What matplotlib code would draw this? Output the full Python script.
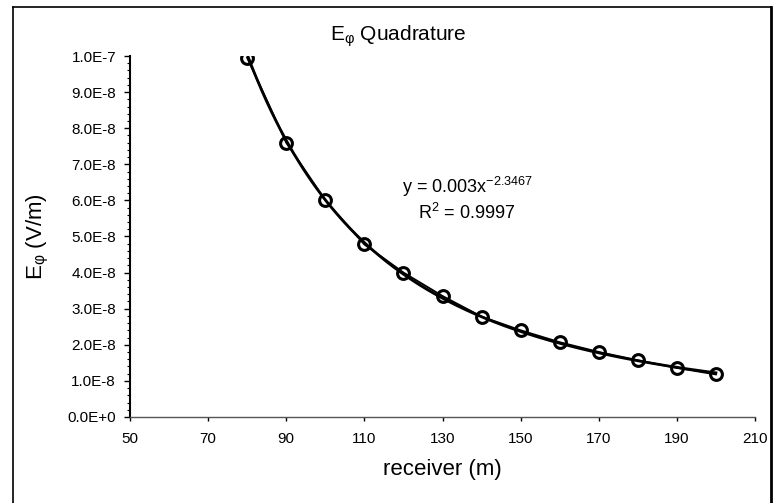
import matplotlib.pyplot as plt
import numpy as np
from matplotlib.ticker import MultipleLocator, FuncFormatter
from matplotlib.lines import Line2D

plt.rcParams['font.family'] = ['Liberation Sans', 'DejaVu Sans']
plt.rcParams['mathtext.fontset'] = 'custom'
plt.rcParams['mathtext.rm'] = 'Liberation Sans'
plt.rcParams['mathtext.it'] = 'Liberation Sans:italic'

# data
receiver = [80, 90, 100, 110, 120, 130, 140, 150, 160, 170, 180, 190, 200]
e_phi = [9.95e-8, 7.6e-8, 6.0e-8, 4.78e-8, 4.0e-8, 3.35e-8, 2.78e-8,
         2.4e-8, 2.07e-8, 1.8e-8, 1.57e-8, 1.36e-8, 1.18e-8]
x_ticks = [50, 70, 90, 110, 130, 150, 170, 190, 210]
eq_text = "y = 0.003x$^{-2.3467}$"
r2_text = "R$^2$ = 0.9997"

x = np.array(receiver)
y = np.array(e_phi)

fig = plt.figure(figsize=(7.74, 5.03), dpi=100)
ax = fig.add_axes([130/774, 1-417/503, 625/774, 361/503])

# power trendline fitted to the points
b, ln_a = np.polyfit(np.log(x), np.log(y), 1)
xs = np.linspace(x.min(), x.max(), 200)
ax.plot(xs, np.exp(ln_a) * xs**b, color='black', lw=2.0)
ax.plot(x, y, color='black', lw=1.4, marker='o', ms=8.5, mfc='none',
        mec='black', mew=2.2)

ax.set_xlim(50, 210)
ax.set_ylim(0, 1e-7)
ax.set_xticks(x_ticks)
ax.yaxis.set_major_locator(MultipleLocator(1e-8))
ax.yaxis.set_minor_locator(MultipleLocator(2e-9))

def sci(v, pos):
    if v == 0:
        return "0.0E+0"
    e = int(np.floor(np.log10(abs(v)) + 1e-9))
    return "%.1fE%d" % (v / 10**e, e)

ax.yaxis.set_major_formatter(FuncFormatter(sci))
ax.tick_params(axis='both', labelsize=11, direction='out', width=1)
ax.tick_params(axis='y', which='major', length=4, pad=6)
ax.tick_params(axis='y', which='minor', length=2.5, width=0.8)
ax.tick_params(axis='x', length=3, pad=8)
for s in ['top', 'right']:
    ax.spines[s].set_visible(False)
ax.spines['left'].set_linewidth(1.5)
ax.spines['bottom'].set_linewidth(1.0)
ax.spines['bottom'].set_color('#555555')

ax.set_xlabel("receiver (m)", fontsize=16, labelpad=9)
ax.set_ylabel("E$_{\\mathrm{φ}}$ (V/m)", fontsize=16, labelpad=12)
fig.text(398/774, 1-36/503, "E$_{\\mathrm{φ}}$ Quadrature", fontsize=15,
         ha='center', va='center')

fig.text(467/774, 1-187/503, eq_text, fontsize=13, ha='center', va='center')
fig.text(467/774, 1-213/503, r2_text, fontsize=13, ha='center', va='center')

# outer chart border (left, top, right)
for xx, yy, w in [([13, 13], [7, 503], 1.2), ([13, 771], [7, 7], 1.2),
                  ([771, 771], [7, 503], 2.0)]:
    fig.add_artist(Line2D(np.array(xx)/774, 1-np.array(yy)/503,
                          color='black', lw=w))

fig.savefig("out.png", dpi=100)
